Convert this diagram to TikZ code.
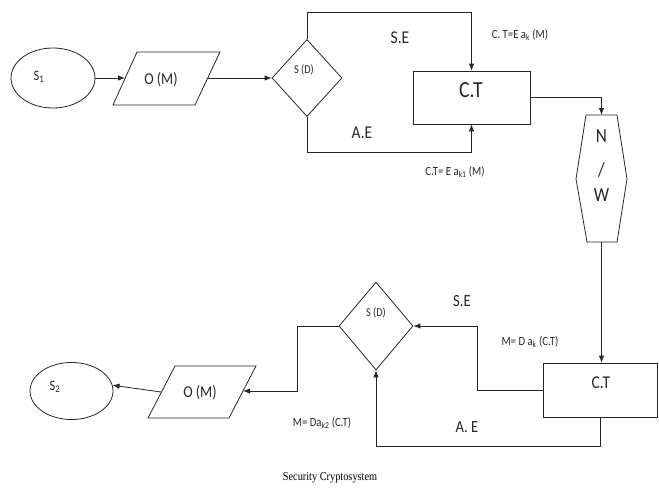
\documentclass[tikz,border=0pt]{standalone}
\usepackage{fontspec}
\setmainfont{Carlito}[FakeStretch=0.86]
\newfontfamily\capfont{Liberation Serif}[FakeStretch=0.86]
\usetikzlibrary{shapes.geometric,arrows.meta}
\begin{document}
\begin{tikzpicture}[x=1pt,y=-1pt,
  line width=0.8pt, draw=black!85,
  arr/.style={draw=black!85,-{Latex[length=7pt,width=5.5pt]}},
  txt/.style={inner sep=0pt, text=black!85},
  small/.style={txt, font=\fontsize{12.5}{14}\selectfont},
  mid/.style={txt, font=\fontsize{17}{19}\selectfont},
  boxnode/.style={draw, inner sep=0pt},
]
\useasboundingbox (0,0) rectangle (659,488);

% ---------- top row ----------
\node[boxnode, ellipse, minimum width=84pt, minimum height=60pt] (s1) at (53,78) {};
\node[txt, font=\fontsize{14.5}{16}\selectfont] (s1t) at (39,77) {S\textsubscript{1}};

\draw (113,105) -- (137,52) -- (220,52) -- (195,105) -- cycle;
\coordinate (pm1l) at (125,78);
\coordinate (pm1r) at (208,78);
\node[txt, font=\fontsize{16.5}{18}\selectfont] (pm1t) at (161,80) {O (M)};

\node[boxnode, diamond, minimum width=70pt, minimum height=77pt] (d1) at (307,78) {};
\node[small, font=\fontsize{12}{14}\selectfont] (d1t) at (304,70) {S (D)};

\node[boxnode, minimum width=117pt, minimum height=53pt] (ct1) at (471.5,97.5) {};
\node[txt, font=\fontsize{23}{25}\selectfont] (ct1t) at (471,90) {C.T};

\draw (586,115) -- (617,115) -- (627,179) -- (617,242) -- (587,242) -- (576,179) -- cycle;
\coordinate (nwt) at (601.5,115);
\coordinate (nwb) at (601.5,242);
\node[txt, font=\fontsize{20}{22}\selectfont] (nwn) at (601.5,136) {N};
\node[txt, font=\fontsize{20}{22}\selectfont] (nws) at (601.5,170) {/};
\node[txt, font=\fontsize{20}{22}\selectfont] (nww) at (601.5,195) {W};

\draw[arr] (s1.east) -- (pm1l);
\draw[arr] (pm1r) -- (d1.west);
\draw[arr] (d1.north) -- (d1.north |- 0,12) -| (ct1.north);
\draw[arr] (d1.south) |- (ct1.south |- 0,152) -- (ct1.south);
\draw[arr] (ct1.east) -| (nwt);

\node[txt, font=\fontsize{18}{20}\selectfont] (se1) at (400,38) {S.E};
\node[txt, font=\fontsize{18}{20}\selectfont] (ae1) at (362,133) {A.E};
\node[small] (lab1) at (520,35) {C. T=E a\textsubscript{k} (M)};
\node[small] (lab2) at (455,172) {C.T= E a\textsubscript{k1} (M)};

% ---------- bottom row ----------
\node[boxnode, minimum width=114pt, minimum height=54pt] (ct2) at (600,390) {};
\node[txt, font=\fontsize{18}{20}\selectfont] (ct2t) at (601,383) {C.T};

\node[boxnode, diamond, minimum width=74pt, minimum height=88pt] (d2) at (376,326) {};
\node[small, font=\fontsize{12}{14}\selectfont] (d2t) at (376,313) {S (D)};

\draw (148,418) -- (175,366) -- (256,366) -- (229,418) -- cycle;
\coordinate (pm2l) at (161,392);
\coordinate (pm2r) at (243,391);
\node[txt, font=\fontsize{16.5}{18}\selectfont] (pm2t) at (200,393) {O (M)};

\node[boxnode, ellipse, minimum width=83pt, minimum height=57pt] (s2) at (71.5,391) {};
\node[txt, font=\fontsize{14.5}{16}\selectfont] (s2t) at (55,387) {S\textsubscript{2}};

\draw[arr] (nwb) -- (nwb |- ct2.north);
\draw[arr] (ct2.west) -- (477,390) |- (d2.east);
\draw[arr] (ct2.south) -- (ct2.south |- 0,446) -| (d2.south);
\draw[arr] (d2.west) -- (297,326) |- (pm2r);
\draw[arr] (pm2l) -- (s2.8);

\node[mid] (se2) at (462,301) {S.E};
\node[mid] (ae2) at (467,427) {A. E};
\node[small] (lab3) at (530,342) {M= D a\textsubscript{k} (C.T)};
\node[small] (lab4) at (322,423) {M= Da\textsubscript{k2} (C.T)};

\node[txt, font=\capfont\fontsize{12}{14}\selectfont, text=black] (cap) at (330,478) {Security Cryptosystem};
\end{tikzpicture}
\end{document}
